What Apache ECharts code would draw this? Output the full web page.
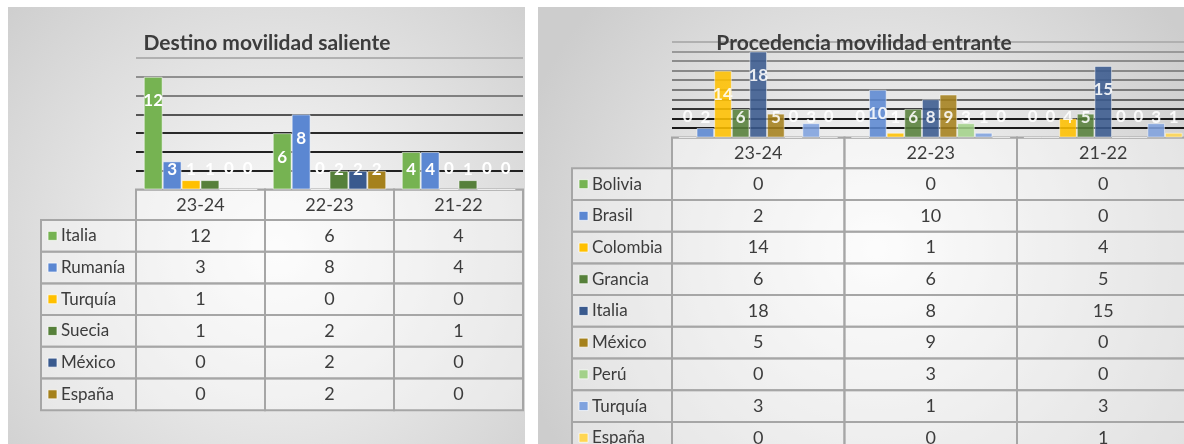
<!DOCTYPE html>
<html>
<head>
<meta charset="utf-8">
<script src="https://cdn.jsdelivr.net/npm/echarts@6/dist/echarts.min.js"></script>
<style>
  html, body { margin: 0; padding: 0; background: #fff; }
  #chart { width: 1184px; height: 444px; }
</style>
</head>
<body>
<div id="chart"></div>
<script>
// ---- datos ----
const cursos = ['23-24', '22-23', '21-22'];

const paisesSalida = ['Italia', 'Rumanía', 'Turquía', 'Suecia', 'México', 'España'];
// filas: país, columnas: curso
const valoresSalida = [
  [12, 6, 4],
  [3, 8, 4],
  [1, 0, 0],
  [1, 2, 1],
  [0, 2, 0],
  [0, 2, 0]
];
const coloresSalida = ['#76b352', '#5b87d2', '#ffc000', '#56803a', '#3a5a8e', '#a5811c'];

const paisesEntrada = ['Bolivia', 'Brasil', 'Colombia', 'Grancia', 'Italia', 'México', 'Perú', 'Turquía', 'España'];
const valoresEntrada = [
  [0, 0, 0],
  [2, 10, 0],
  [14, 1, 4],
  [6, 6, 5],
  [18, 8, 15],
  [5, 9, 0],
  [0, 3, 0],
  [3, 1, 3],
  [0, 0, 1]
];
const coloresEntrada = ['#76b352', '#5b87d2', '#ffc000', '#56803a', '#3a5a8e', '#a5811c', '#a3d18a', '#7fa2de', '#ffd651'];

const FONT = 'Lato, "Open Sans", sans-serif';
const TXT = '#3c3c3c';
const BORDE = '#a6a6a6';

const chart = echarts.init(document.getElementById('chart'), null, { renderer: 'canvas' });

const grid = [], xAxis = [], yAxis = [], series = [];

function celdaRect(c, s) {
  return {
    type: 'rect',
    shape: { x: c[0] - s[0] / 2, y: c[1] - s[1] / 2, width: s[0], height: s[1] },
    style: { fill: 'rgba(255,255,255,0.4)', stroke: BORDE, lineWidth: 2 }
  };
}

function addGrid(left, width, top, height) {
  grid.push({ left: left, width: width, top: top, height: height, outerBoundsMode: 'none', containLabel: false });
}

function panel(p) {
  const g = grid.length;
  const unit = p.plot.height / p.max;

  // 0: barras
  addGrid(p.plot.left, p.plot.width, p.plot.top, p.plot.height);
  xAxis.push({
    gridIndex: g, type: 'category', data: cursos,
    axisLine: { show: true, lineStyle: { color: BORDE, width: 2 } },
    axisTick: { show: false }, axisLabel: { show: false }
  });
  yAxis.push({
    gridIndex: g, type: 'value', min: 0, max: p.max, interval: 2,
    axisLine: { show: false }, axisTick: { show: false }, axisLabel: { show: false },
    splitLine: { show: true, lineStyle: { color: p.lineColors, width: 2 } }
  });
  p.paises.forEach((nombre, i) => {
    series.push({
      type: 'bar', name: nombre, xAxisIndex: g, yAxisIndex: g,
      barGap: '0%', barCategoryGap: p.catGap,
      itemStyle: { color: p.colores[i], opacity: p.opacity, borderColor: 'rgba(255,255,255,0.55)', borderWidth: 1 },
      label: {
        show: true, color: '#fff', fontWeight: 'bold', fontSize: 17, fontFamily: FONT,
        align: 'center', verticalAlign: 'middle'
      },
      data: p.valores[i].map(v => ({
        value: v,
        label: { position: ['50%', Math.min(24, v * unit - 20)] }
      }))
    });
  });

  // 1: fila de cabecera (cursos)
  addGrid(p.plot.left, p.plot.width, p.plot.top + p.plot.height, p.headH);
  xAxis.push({ gridIndex: g + 1, type: 'category', data: cursos, show: false });
  yAxis.push({ gridIndex: g + 1, type: 'category', data: [''], show: false });
  series.push({
    type: 'custom', xAxisIndex: g + 1, yAxisIndex: g + 1, silent: true,
    data: cursos.map((c, j) => [j, 0]),
    renderItem(params, api) {
      const c = api.coord([api.value(0), api.value(1)]);
      const s = api.size([1, 1]);
      return {
        type: 'group', children: [
          celdaRect(c, s),
          { type: 'text', style: { text: cursos[api.value(0)], x: c[0], y: c[1], align: 'center', verticalAlign: 'middle', fill: TXT, font: '18px ' + FONT } }
        ]
      };
    }
  });

  // 2: cuerpo de la tabla
  const top = p.plot.top + p.plot.height + p.headH;
  const h = p.rowH * p.paises.length;
  addGrid(p.plot.left, p.plot.width, top, h);
  xAxis.push({ gridIndex: g + 2, type: 'category', data: cursos, show: false });
  yAxis.push({ gridIndex: g + 2, type: 'category', data: p.paises, inverse: true, show: false });
  const celdas = [];
  p.valores.forEach((fila, i) => fila.forEach((v, j) => celdas.push([j, i])));
  series.push({
    type: 'custom', xAxisIndex: g + 2, yAxisIndex: g + 2, silent: true,
    data: celdas,
    renderItem(params, api) {
      const c = api.coord([api.value(0), api.value(1)]);
      const s = api.size([1, 1]);
      return {
        type: 'group', children: [
          celdaRect(c, s),
          { type: 'text', style: { text: String(p.valores[api.value(1)][api.value(0)]), x: c[0], y: c[1], align: 'center', verticalAlign: 'middle', fill: TXT, font: '18px ' + FONT } }
        ]
      };
    }
  });

  // 3: columna de nombres con leyenda
  addGrid(p.labelLeft, p.plot.left - p.labelLeft, top, h);
  xAxis.push({ gridIndex: g + 3, type: 'category', data: [''], show: false });
  yAxis.push({ gridIndex: g + 3, type: 'category', data: p.paises, inverse: true, show: false });
  series.push({
    type: 'custom', xAxisIndex: g + 3, yAxisIndex: g + 3, silent: true,
    data: p.paises.map((n, i) => [0, i]),
    renderItem(params, api) {
      const i = api.value(1);
      const c = api.coord([0, i]);
      const s = api.size([1, 1]);
      const x0 = c[0] - s[0] / 2;
      return {
        type: 'group', children: [
          celdaRect(c, s),
          { type: 'rect', shape: { x: x0 + 7, y: c[1] - 4.5, width: 9, height: 9 }, style: { fill: p.colores[i], stroke: 'rgba(255,255,255,0.7)', lineWidth: 1 } },
          { type: 'text', style: { text: p.paises[i], x: x0 + 20, y: c[1], align: 'left', verticalAlign: 'middle', fill: TXT, font: '17px ' + FONT } }
        ]
      };
    }
  });
}

panel({
  paises: paisesSalida, valores: valoresSalida, colores: coloresSalida,
  plot: { left: 136, width: 387, top: 58, height: 131.5 }, max: 14,
  headH: 30.5, rowH: 31.7, labelLeft: 41, catGap: '12%', opacity: 1,
  lineColors: ['#999', '#222', '#222', '#2a2a2a', '#555', '#808080', '#909090', '#b0b0b0']
});

panel({
  paises: paisesEntrada, valores: valoresEntrada, colores: coloresEntrada,
  plot: { left: 672, width: 517.5, top: 42, height: 95.5 }, max: 20,
  headH: 30.8, rowH: 31.7, labelLeft: 572, catGap: '8%', opacity: 0.88,
  lineColors: ['#999', '#1a1a1a', '#1a1a1a', '#333', '#666', '#7a7a7a', '#808080', '#888', '#8c8c8c', '#999', '#b0b0b0']
});

function fondo(x, y, w, h) {
  return {
    type: 'rect', z: -100, silent: true,
    shape: { x: x, y: y, width: w, height: h },
    style: {
      fill: {
        type: 'radial', x: 0.52, y: 0.55, r: 0.85,
        colorStops: [{ offset: 0, color: '#fbfbfb' }, { offset: 1, color: '#cdcdcd' }]
      }
    }
  };
}

chart.setOption({
  backgroundColor: '#fff',
  animation: false,
  graphic: [
    fondo(8, 7, 517, 440),
    fondo(538, 7, 650, 440),
    { type: 'text', z: 100, x: 267, y: 43, style: { text: 'Destino movilidad saliente', align: 'center', verticalAlign: 'middle', fill: TXT, font: 'bold 21px ' + FONT } },
    { type: 'text', z: 100, x: 864, y: 43, style: { text: 'Procedencia movilidad entrante', align: 'center', verticalAlign: 'middle', fill: TXT, font: 'bold 21px ' + FONT } }
  ],
  grid: grid,
  xAxis: xAxis,
  yAxis: yAxis,
  series: series
});

window.addEventListener('resize', () => chart.resize());
</script>
</body>
</html>
